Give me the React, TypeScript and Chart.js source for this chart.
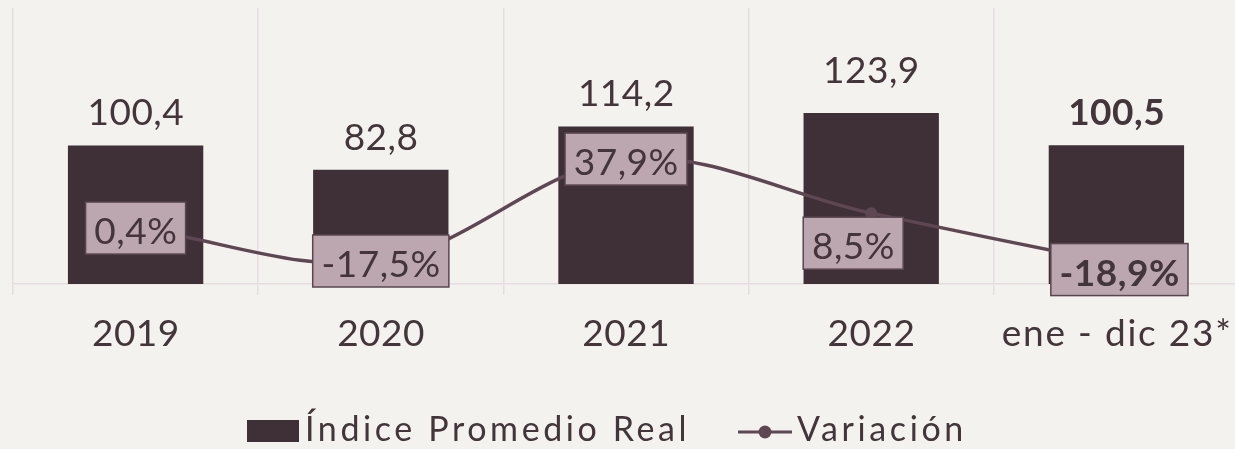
import React, { useEffect, useRef } from "react";
import { Chart, registerables } from "chart.js";

Chart.register(...registerables);

// ---- data ----
const categories = ["2019", "2020", "2021", "2022", "ene - dic 23*"];
const indiceValues = [100.4, 82.8, 114.2, 123.9, 100.5];
const variacionValues = [0.4, -17.5, 37.9, 8.5, -18.9];
const seriesNames = ["Índice Promedio Real", "Variación"];
const highlighted = [false, false, false, false, true];

// ---- styles ----
const BG = "#F3F2EF";
const BAR = "#3F3037";
const LINE = "#5E4653";
const BOX_FILL = "#BCA7B1";
const BOX_STROKE = "#5A4650";
const TEXT = "#433539";
const GRID = "#E5DDE0";
const FONT = "Lato, 'Open Sans', sans-serif";
const WEIGHT = "normal";

// label layout tweaks (pixels)
const valueLabelLift = [20, 20, 20, 30, 20];
const varLabelOffset: [number, number][] = [[0, 0], [0, 0], [0, 0], [-18, 30], [3, 6]];

const fmt = (v: number, pct = false) => v.toFixed(1).replace(".", ",") + (pct ? "%" : "");

function spaced(ctx: any, txt: string, x: number, y: number, ls: number, align: "left" | "center") {
  ctx.letterSpacing = `${ls}px`;
  const w = ctx.measureText(txt).width - ls;
  const left = align === "center" ? x - w / 2 : x;
  ctx.textAlign = "left";
  ctx.fillText(txt, left, y);
  ctx.letterSpacing = "0px";
}

export default function App() {
  const ref = useRef<HTMLCanvasElement | null>(null);

  useEffect(() => {
    if (!ref.current) return;

    const labelsPlugin = {
      id: "customLabels",
      afterDatasetsDraw(chart: any) {
        const ctx = chart.ctx as any;
        const barMeta = chart.getDatasetMeta(0);
        const lineMeta = chart.getDatasetMeta(1);
        ctx.save();
        ctx.textBaseline = "alphabetic";
        // value labels above bars
        barMeta.data.forEach((bar: any, i: number) => {
          ctx.font = `${highlighted[i] ? "bold" : WEIGHT} 37px ${FONT}`;
          ctx.fillStyle = TEXT;
          spaced(ctx, fmt(indiceValues[i]), bar.x, bar.y - valueLabelLift[i], 0.5, "center");
        });
        // variation boxes
        lineMeta.data.forEach((pt: any, i: number) => {
          const txt = fmt(variacionValues[i], true);
          ctx.font = `${highlighted[i] ? "bold" : WEIGHT} 37px ${FONT}`;
          ctx.letterSpacing = "0.5px";
          const w = ctx.measureText(txt).width + 17;
          ctx.letterSpacing = "0px";
          const h = 52;
          const cx = pt.x + varLabelOffset[i][0];
          const cy = pt.y + varLabelOffset[i][1];
          ctx.fillStyle = BOX_FILL;
          ctx.fillRect(cx - w / 2, cy - h / 2, w, h);
          ctx.strokeStyle = BOX_STROKE;
          ctx.lineWidth = 1.5;
          ctx.strokeRect(cx - w / 2, cy - h / 2, w, h);
          ctx.fillStyle = TEXT;
          spaced(ctx, txt, cx, cy + 16, 0.5, "center");
        });
        // category labels
        const xs = chart.scales.x;
        ctx.font = `${WEIGHT} 37px ${FONT}`;
        ctx.fillStyle = TEXT;
        categories.forEach((c, i) => {
          spaced(ctx, c, xs.getPixelForValue(i), 346, /\d{4}/.test(c) ? 0.5 : 1.8, "center");
        });
        // legend
        ctx.fillStyle = BAR;
        ctx.fillRect(247, 420, 52, 22);
        ctx.font = `${WEIGHT} 34px ${FONT}`;
        ctx.fillStyle = TEXT;
        spaced(ctx, seriesNames[0], 305, 441, 3.6, "left");
        ctx.strokeStyle = LINE;
        ctx.lineWidth = 3;
        ctx.beginPath();
        ctx.moveTo(738, 432);
        ctx.lineTo(792, 432);
        ctx.stroke();
        ctx.fillStyle = LINE;
        ctx.beginPath();
        ctx.arc(765, 432, 6.5, 0, Math.PI * 2);
        ctx.fill();
        ctx.fillStyle = TEXT;
        spaced(ctx, seriesNames[1], 797, 441, 3.6, "left");
        ctx.restore();
      },
    };

    const chart = new Chart(ref.current, {
      type: "bar",
      data: {
        labels: categories,
        datasets: [
          {
            type: "bar",
            label: seriesNames[0],
            data: indiceValues,
            backgroundColor: BAR,
            barPercentage: 0.552,
            categoryPercentage: 1,
            yAxisID: "y",
            order: 2,
          },
          {
            type: "line",
            label: seriesNames[1],
            data: variacionValues,
            borderColor: LINE,
            backgroundColor: LINE,
            borderWidth: 3.5,
            tension: 0.35,
            pointRadius: 6,
            pointBackgroundColor: LINE,
            pointBorderWidth: 0,
            yAxisID: "y2",
            order: 1,
          } as any,
        ],
      },
      options: {
        responsive: false,
        animation: false,
        layout: { padding: { left: 13, top: 8, right: 0, bottom: 0 } },
        plugins: { legend: { display: false }, tooltip: { enabled: false } },
        scales: {
          x: {
            display: true,
            offset: true,
            grid: { offset: true, color: GRID, lineWidth: 1.5, tickLength: 11, drawOnChartArea: true },
            border: { display: true, color: GRID, width: 1.5 },
            ticks: { display: false },
            afterFit: (s: any) => {
              s.height = 165;
            },
          },
          y: { display: false, min: 0, max: 200 },
          y2: { display: false, min: -30, max: 120, position: "right" },
        },
      },
      plugins: [labelsPlugin],
    });
    return () => chart.destroy();
  }, []);

  return (
    <div style={{ position: "fixed", inset: 0, overflow: "hidden", background: BG }}>
      <canvas ref={ref} width={1245} height={449} style={{ display: "block" }} />
    </div>
  );
}
